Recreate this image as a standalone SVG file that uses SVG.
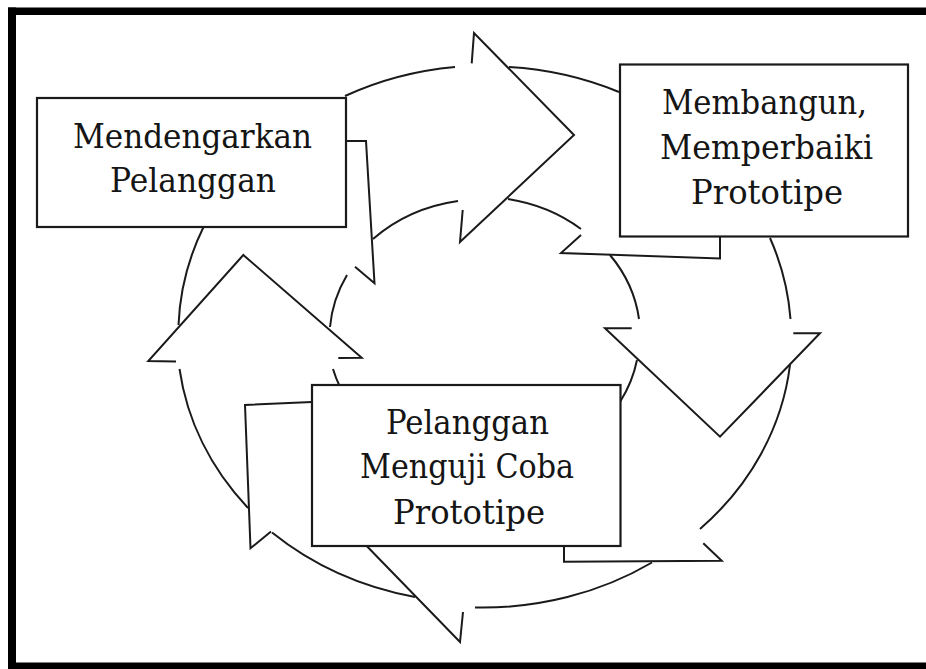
<svg xmlns="http://www.w3.org/2000/svg" width="926" height="669" viewBox="0 0 926 669">
<style>
.ln{fill:none;stroke:#1a1a1a;stroke-width:2;stroke-linejoin:miter;stroke-linecap:butt}
.box{fill:#fff;stroke:#1a1a1a;stroke-width:2.2}
.tx{font-family:"DejaVu Serif","Liberation Serif",serif;font-size:33px;fill:#151515}
</style>
<rect width="926" height="669" fill="#fff"/>
<g id="frame" fill="#000">
<rect x="8" y="7.5" width="918" height="7.5"/>
<rect x="8" y="7.5" width="8" height="661.5"/>
<rect x="8" y="662.5" width="918" height="6.5"/>
</g>
<g id="connectors" class="ln">
<!-- outer ring arcs -->
<path d="M345,96 A306,271 0 0 1 455,67"/>
<path d="M509,67 A306,271 0 0 1 619,92"/>
<path d="M770,238 A306,271 0 0 1 790.5,319"/>
<path d="M790,365 A306,271 0 0 1 700,529"/>
<path d="M652,562.5 A306,271 0 0 1 475,607.5"/>
<path d="M415,597 A306,271 0 0 1 272,532.5"/>
<path d="M248,508 A306,271 0 0 1 179.5,369"/>
<path d="M178.5,325 A306,271 0 0 1 203.5,227"/>
<!-- inner ring arcs -->
<path d="M373,239 A156,136 0 0 1 458,201"/>
<path d="M508,199 A156,136 0 0 1 581,229"/>
<path d="M610,255 A156,136 0 0 1 639,319"/>
<path d="M637,360 A156,136 0 0 1 620,402"/>
<path d="M340,387 A156,136 0 0 1 333,369"/>
<path d="M330,327 A156,136 0 0 1 347,275"/>
<!-- arrowheads -->
<path d="M471.7,63.3 L474,33 L574,135 L460,242 L462.7,210"/>
<path d="M631.7,328.3 L605,328.3 L720,436.7 L820,333.3 L793.3,333.3"/>
<path d="M176,361.5 L148.3,361 L243.3,255 L361.7,357.7 L338.3,358"/>
<path d="M366.7,546 L460,642 L463,612"/>
<!-- notched tails -->
<path d="M346,141 L366,141 L374.5,283.3 L355,266.7"/>
<path d="M581,235 L561,253 L720,258.5 L720,237"/>
<path d="M312,402 L245,405 L250.5,548.3 L271,531.5"/>
<path d="M564,546 L564,561.7 L721.7,560.7 L703.3,543.3"/>
</g>
<g id="node-mendengarkan">
<rect class="box" x="37" y="98" width="309" height="129"/>
<text class="tx" x="73" y="148" textLength="239" lengthAdjust="spacingAndGlyphs">Mendengarkan</text>
<text class="tx" x="110" y="192" textLength="166" lengthAdjust="spacingAndGlyphs">Pelanggan</text>
</g>
<g id="node-membangun">
<rect class="box" x="620" y="64.5" width="288" height="172"/>
<text class="tx" x="662" y="114" textLength="205" lengthAdjust="spacingAndGlyphs">Membangun,</text>
<text class="tx" x="660" y="159" textLength="213" lengthAdjust="spacingAndGlyphs">Memperbaiki</text>
<text class="tx" x="691" y="204" textLength="152" lengthAdjust="spacingAndGlyphs">Prototipe</text>
</g>
<g id="node-pelanggan-menguji">
<rect class="box" x="312" y="385" width="308.5" height="161"/>
<text class="tx" x="386" y="434" textLength="163" lengthAdjust="spacingAndGlyphs">Pelanggan</text>
<text class="tx" x="360" y="478" textLength="214" lengthAdjust="spacingAndGlyphs">Menguji Coba</text>
<text class="tx" x="393" y="524" textLength="152" lengthAdjust="spacingAndGlyphs">Prototipe</text>
</g>
</svg>
